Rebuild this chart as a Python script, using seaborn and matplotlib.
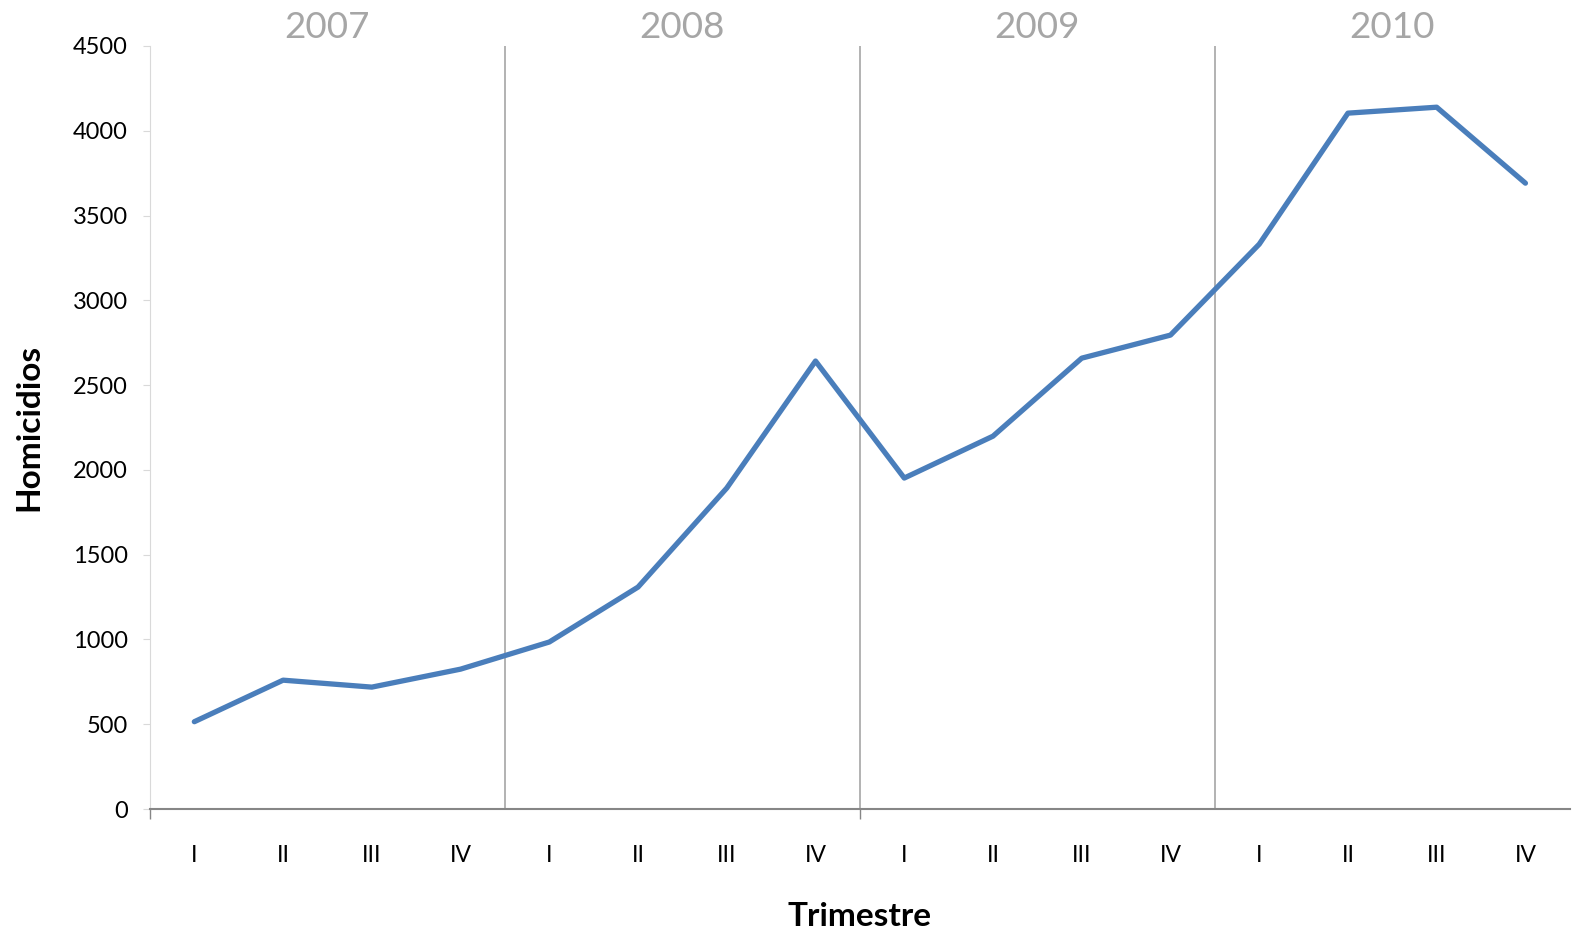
import seaborn as sns
import matplotlib.pyplot as plt
import pandas as pd
import numpy as np

years = ['2007', '2008', '2009', '2010']
quarters = ['I', 'II', 'III', 'IV']
homicidios = [515, 760, 719, 825,
              985, 1309, 1893, 2642,
              1952, 2199, 2659, 2795,
              3331, 4104, 4139, 3691]

labels = quarters * len(years)
data = pd.DataFrame({'pos': np.arange(len(homicidios)), 'Homicidios': homicidios})

sns.set_style('white')
plt.rcParams['font.family'] = ['Lato', 'DejaVu Sans']
plt.rcParams['text.color'] = 'black'
plt.rcParams['xtick.labelcolor'] = 'black'
plt.rcParams['ytick.labelcolor'] = 'black'
plt.rcParams['axes.labelcolor'] = 'black'

fig = plt.figure(figsize=(15.72, 9.31), dpi=100)
ax = fig.add_axes([0.0954, 0.131, 0.9032, 0.8196])

sns.lineplot(data=data, x='pos', y='Homicidios', color='#4A7EBB', linewidth=3.8,
             solid_capstyle='round', solid_joinstyle='round', ax=ax)

ax.set_xlim(-0.5, len(homicidios) - 0.5)
ax.set_ylim(0, 4500)
ax.set_yticks(range(0, 4501, 500))
ax.tick_params(axis='y', labelsize=17, length=5, color='#D9D9D9', pad=11, left=True)

ax.set_xticks(data['pos'])
ax.set_xticklabels(labels)
ax.set_xticks([-0.5, 7.5], minor=True)
ax.tick_params(axis='x', which='major', labelsize=16.5, length=0, pad=26)
ax.tick_params(axis='x', which='minor', length=7, color='#868686', width=1, bottom=True)

for s in ['top', 'right']:
    ax.spines[s].set_visible(False)
ax.spines['left'].set_color('#D9D9D9')
ax.spines['bottom'].set_color('#868686')
ax.spines['bottom'].set_linewidth(1.5)

for i in range(1, len(years)):
    ax.axvline(i * 4 - 0.5, color='#ADADAD', linewidth=1.3, zorder=0)

for i, y in enumerate(years):
    ax.text(i * 4 + 1.5, 1.024, y, transform=ax.get_xaxis_transform(),
            ha='center', va='center', fontsize=26.5, color='#A6A6A6')

ax.set_xlabel('Trimestre', fontsize=24, fontweight='bold', labelpad=26)
ax.set_ylabel('Homicidios', fontsize=24, fontweight='bold', labelpad=21)

plt.savefig('out.png', dpi=100)
